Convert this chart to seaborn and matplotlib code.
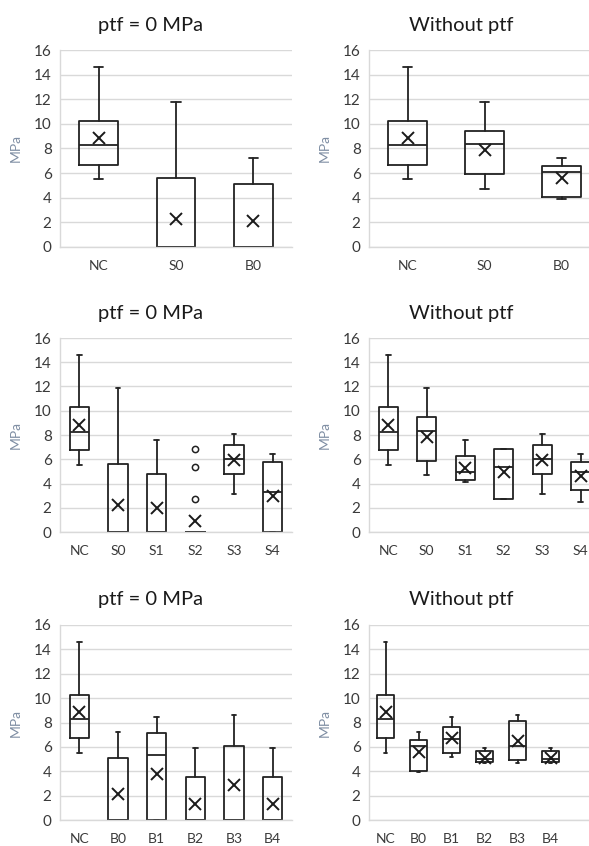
import numpy as np
import matplotlib
matplotlib.use("Agg")
import matplotlib.pyplot as plt
import seaborn as sns

sns.set_theme(style="whitegrid")
plt.rcParams['font.family'] = ['Lato', 'DejaVu Sans']

TITLE_LEFT = "ptf = 0 MPa"
TITLE_RIGHT = "Without ptf"
Y_LABEL = "MPa"
Y_TICKS = [0, 2, 4, 6, 8, 10, 12, 14, 16]

# ---------------- Row 1 ----------------
r1_cats = ["NC", "S0", "B0"]
# left: ptf = 0 MPa
r1L_low = [5.5, 0.0, 0.0]
r1L_q1 = [6.7, 0.0, 0.0]
r1L_med = [8.3, 0.0, 0.0]
r1L_q3 = [10.2, 5.6, 5.1]
r1L_high = [14.6, 11.8, 7.2]
r1L_mean = [8.85, 2.3, 2.1]
r1L_fliers = [[], [], []]
# right: without ptf
r1R_low = [5.5, 4.7, 3.9]
r1R_q1 = [6.7, 5.9, 4.05]
r1R_med = [8.3, 8.4, 6.1]
r1R_q3 = [10.2, 9.4, 6.6]
r1R_high = [14.6, 11.8, 7.2]
r1R_mean = [8.85, 7.85, 5.6]
r1R_fliers = [[], [], []]

# ---------------- Row 2 ----------------
r2_cats = ["NC", "S0", "S1", "S2", "S3", "S4"]
r2L_low = [5.5, 0.0, 0.0, 0.0, 3.15, 0.0]
r2L_q1 = [6.75, 0.0, 0.0, 0.0, 4.8, 0.0]
r2L_med = [8.25, 0.0, 0.0, 0.0, 6.0, 3.3]
r2L_q3 = [10.3, 5.6, 4.75, 0.0, 7.15, 5.8]
r2L_high = [14.6, 11.85, 7.6, 0.0, 8.1, 6.45]
r2L_mean = [8.85, 2.25, 1.95, 0.9, 5.9, 2.95]
r2L_fliers = [[], [], [], [2.75, 5.4, 6.85], [], []]

r2R_low = [5.5, 4.7, 4.1, 2.7, 3.15, 2.5]
r2R_q1 = [6.75, 5.85, 4.25, 2.7, 4.8, 3.45]
r2R_med = [8.25, 8.35, 4.95, 5.35, 6.0, 4.95]
r2R_q3 = [10.3, 9.45, 6.3, 6.85, 7.15, 5.8]
r2R_high = [14.6, 11.85, 7.6, 6.85, 8.1, 6.45]
r2R_mean = [8.85, 7.8, 5.3, 4.95, 5.9, 4.65]
r2R_fliers = [[], [], [], [], [], []]

# ---------------- Row 3 ----------------
r3_cats = ["NC", "B0", "B1", "B2", "B3", "B4"]
r3L_low = [5.5, 0.0, 0.0, 0.0, 0.0, 0.0]
r3L_q1 = [6.75, 0.0, 0.0, 0.0, 0.0, 0.0]
r3L_med = [8.3, 0.0, 5.3, 0.0, 0.0, 0.0]
r3L_q3 = [10.25, 5.05, 7.1, 3.5, 6.05, 3.5]
r3L_high = [14.6, 7.2, 8.45, 5.9, 8.6, 5.9]
r3L_mean = [8.85, 2.1, 3.75, 1.3, 2.9, 1.3]
r3L_fliers = [[], [], [], [], [], []]

r3R_low = [5.5, 3.9, 5.2, 4.7, 4.65, 4.7]
r3R_q1 = [6.75, 4.05, 5.5, 4.75, 4.9, 4.75]
r3R_med = [8.3, 6.1, 6.65, 5.0, 6.1, 5.0]
r3R_q3 = [10.25, 6.6, 7.65, 5.7, 8.15, 5.7]
r3R_high = [14.6, 7.2, 8.45, 5.9, 8.6, 5.9]
r3R_mean = [8.85, 5.6, 6.75, 5.1, 6.5, 5.1]
r3R_fliers = [[], [], [], [], [], []]

W, H = 589, 846
fig = plt.figure(figsize=(W / 100, H / 100), dpi=100)
fig.patch.set_facecolor("white")

GRID = "#d9d9d9"
TICKC = "#3a3a3a"
YLC = "#7f8ea3"
LINEC = "#222222"


def make_stats(cats, low, q1, med, q3, high, mean, fliers):
    out = []
    for i, c in enumerate(cats):
        out.append(dict(label=c, whislo=low[i], q1=q1[i], med=med[i],
                        q3=q3[i], whishi=high[i], mean=mean[i],
                        fliers=np.array(fliers[i])))
    return out


def panel(rect, title, title_x, cats, nslots, stats):
    l, t, r, b = rect  # pixel coords
    ax = fig.add_axes([l / W, 1 - b / H, (r - l) / W, (b - t) / H])
    ax.set_facecolor("white")
    pos = list(range(len(cats)))
    ax.bxp(stats, positions=pos, widths=0.5, capwidths=0.12,
           showmeans=True, showfliers=True, patch_artist=False,
           boxprops=dict(color=LINEC, linewidth=1.3),
           whiskerprops=dict(color=LINEC, linewidth=1.3),
           capprops=dict(color=LINEC, linewidth=1.3),
           medianprops=dict(color=LINEC, linewidth=1.3),
           meanprops=dict(marker="x", markeredgecolor="#1a1a1a",
                          markersize=8.5, markeredgewidth=1.4),
           flierprops=dict(marker="o", markerfacecolor="white",
                           markeredgecolor=LINEC, markersize=4.5,
                           markeredgewidth=1.1))
    ax.set_xlim(-0.5, nslots - 0.5)
    ax.set_ylim(0, 16)
    ax.set_yticks(Y_TICKS)
    ax.set_xticks(pos)
    ax.set_xticklabels(cats)
    ax.grid(axis="y", color=GRID, linewidth=1.0)
    ax.grid(axis="x", visible=False)
    ax.set_axisbelow(True)
    for s in ["top", "right"]:
        ax.spines[s].set_visible(False)
    for s in ["left", "bottom"]:
        ax.spines[s].set_visible(True)
        ax.spines[s].set_color(GRID)
        ax.spines[s].set_linewidth(1.0)
    ax.tick_params(axis="y", labelsize=11, colors=TICKC, pad=6, length=0)
    ax.tick_params(axis="x", labelsize=10, colors=TICKC, pad=9, length=0)
    ax.set_ylabel(Y_LABEL, color=YLC, fontsize=10, labelpad=9)
    ax.text(title_x, 1 + 25 / (b - t), title, transform=ax.transAxes,
            ha="center", va="center", fontsize=14.5, color="#1a1a1a")
    return ax


rows = [
    ((50, 247), r1_cats, 3, 3,
     make_stats(r1_cats, r1L_low, r1L_q1, r1L_med, r1L_q3, r1L_high, r1L_mean, r1L_fliers),
     make_stats(r1_cats, r1R_low, r1R_q1, r1R_med, r1R_q3, r1R_high, r1R_mean, r1R_fliers)),
    ((338, 532), r2_cats, 6, 6,
     make_stats(r2_cats, r2L_low, r2L_q1, r2L_med, r2L_q3, r2L_high, r2L_mean, r2L_fliers),
     make_stats(r2_cats, r2R_low, r2R_q1, r2R_med, r2R_q3, r2R_high, r2R_mean, r2R_fliers)),
    ((625, 820), r3_cats, 6, 7,
     make_stats(r3_cats, r3L_low, r3L_q1, r3L_med, r3L_q3, r3L_high, r3L_mean, r3L_fliers),
     make_stats(r3_cats, r3R_low, r3R_q1, r3R_med, r3R_q3, r3R_high, r3R_mean, r3R_fliers)),
]

for (t, b), cats, nL, nR, sL, sR in rows:
    panel((60, t, 292, b), TITLE_LEFT, 0.392, cats, nL, sL)
    panel((369, t, 600, b), TITLE_RIGHT, 0.398, cats, nR, sR)

fig.savefig("out.png", dpi=100, facecolor="white")
